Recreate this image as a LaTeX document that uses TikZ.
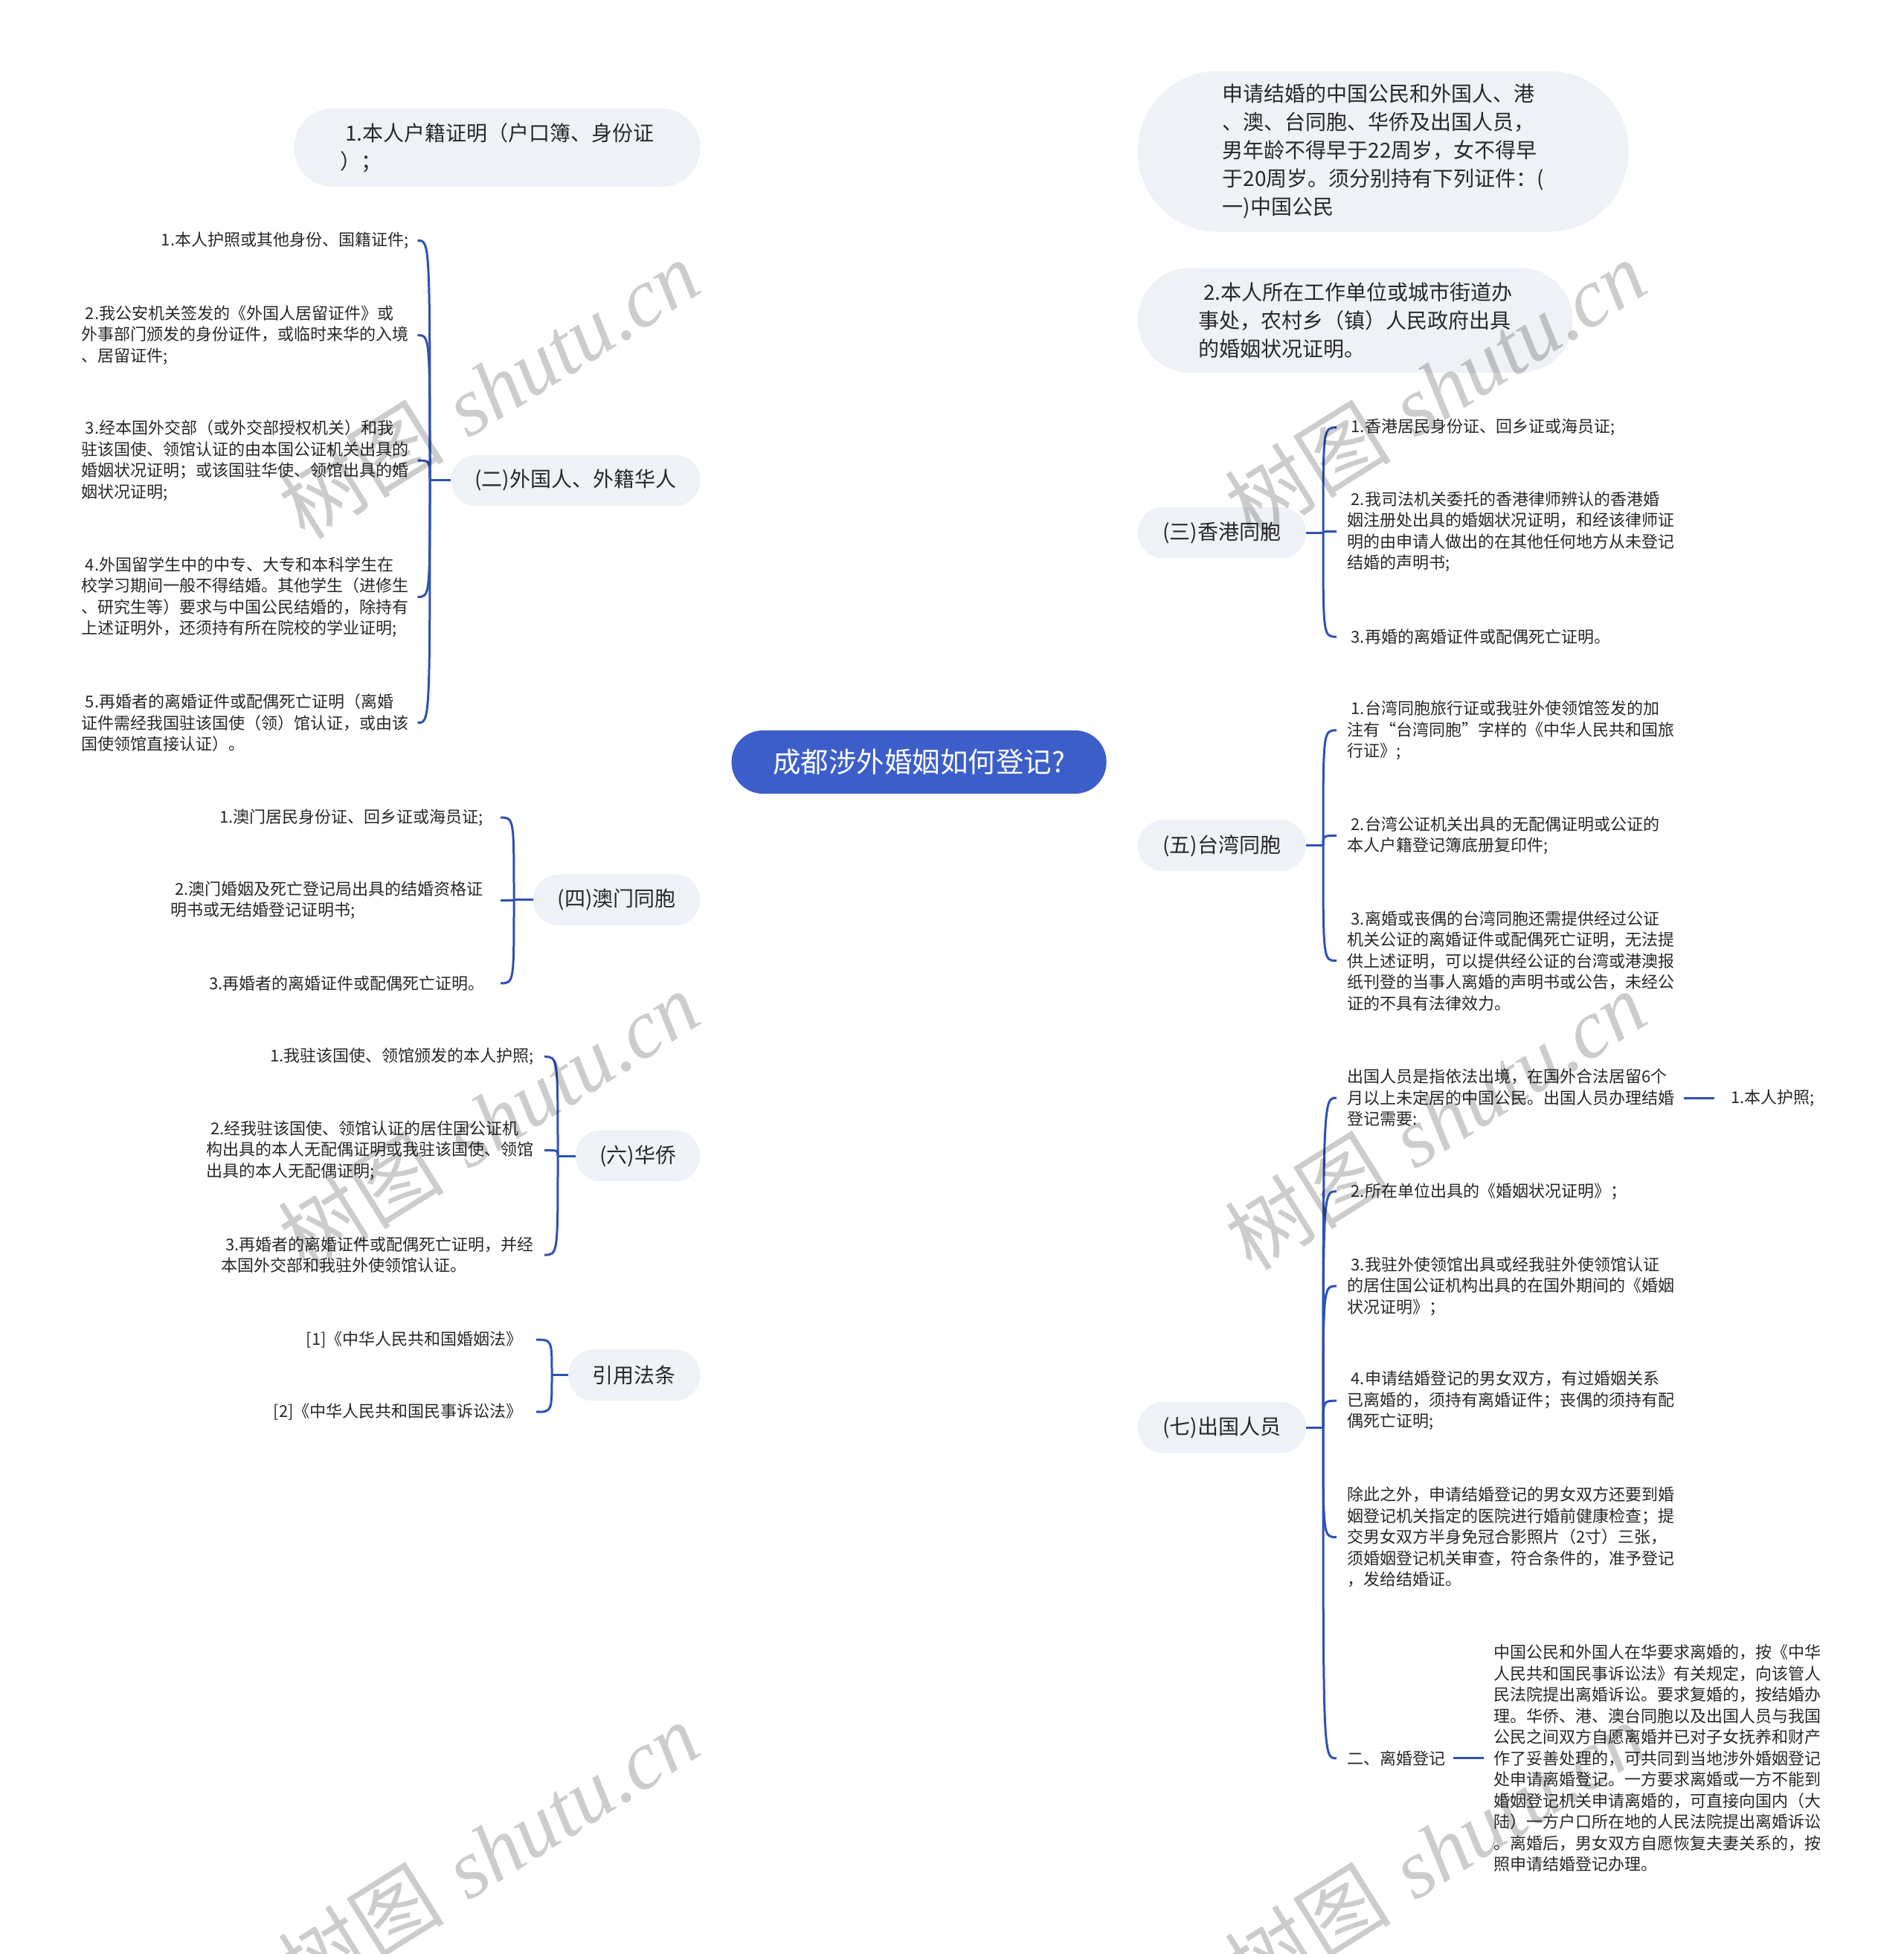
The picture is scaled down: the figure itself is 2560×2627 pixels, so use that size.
\documentclass[tikz,border=0pt]{standalone}
\usepackage{fontspec}
\setmainfont{Noto Sans CJK SC}
\newfontfamily\wmserif{Liberation Serif}
\usetikzlibrary{calc,backgrounds}
\definecolor{rootblue}{RGB}{60,94,201}
\definecolor{linkblue}{RGB}{47,82,178}
\definecolor{pillgray}{RGB}{238,241,245}
\definecolor{txt}{RGB}{40,40,40}
\newcommand\lsp{\hspace*{0.25em}}
\tikzset{
  conn/.style={draw=linkblue, line width=3pt},
  rootbox/.style={fill=rootblue, text=white, inner sep=0pt, minimum width=504pt, minimum height=85pt, rounded corners=42pt, font=\fontsize{37.5}{45}\selectfont},
  pill/.style={fill=pillgray, inner sep=0pt, align=left, text=txt, minimum height=68.7pt, rounded corners=34pt, font=\fontsize{28}{38}\selectfont},
  leafL/.style={inner sep=0pt, align=left, anchor=east, text=txt, font=\fontsize{22}{28.5}\selectfont},
  leafR/.style={inner sep=0pt, align=left, anchor=west, text=txt, font=\fontsize{22}{28.5}\selectfont},
  wm/.style={text=black, text opacity=0.2, rotate=32, inner sep=0pt, font=\fontsize{112}{120}\selectfont}
}
\begin{document}
\begin{tikzpicture}[x=1pt,y=-1pt]
\useasboundingbox (0,0) rectangle (2560,2627);
\fill[white] (0,0) rectangle (2560,2627);

% root
\node[rootbox] (root) at (1235.6,1024.5) {成都涉外婚姻如何登记?};

% left branches
\node[pill, anchor=east, minimum width=546pt, minimum height=105.5pt, rounded corners=52pt] (L1) at (941.6,198.5) {\lsp 1.本人户籍证明（户口簿、身份证\\）；};
\node[pill, anchor=east, minimum width=335pt] (L2) at (941.6,645.9) {(二)外国人、外籍华人};
\node[pill, anchor=east, minimum width=224.5pt] (L3) at (941.6,1209.7) {(四)澳门同胞};
\node[pill, anchor=east, minimum width=167.6pt] (L4) at (941.6,1554) {(六)华侨};
\node[pill, anchor=east, minimum width=177.6pt] (L5) at (941.6,1848.8) {引用法条};

% right branches
\node[pill, anchor=west, minimum width=660pt, minimum height=216pt, rounded corners=107pt] (R1) at (1529.6,203.6) {申请结婚的中国公民和外国人、港\\、澳、台同胞、华侨及出国人员，\\男年龄不得早于22周岁，女不得早\\于20周岁。须分别持有下列证件：(\\一)中国公民};
\node[pill, anchor=west, minimum width=584.7pt, minimum height=140.7pt, rounded corners=70pt] (R2) at (1529.6,430.6) {\lsp 2.本人所在工作单位或城市街道办\\事处，农村乡（镇）人民政府出具\\的婚姻状况证明。};
\node[pill, anchor=west, minimum width=226.2pt] (R3) at (1529.6,716.2) {(三)香港同胞};
\node[pill, anchor=west, minimum width=226.2pt] (R4) at (1529.6,1136.8) {(五)台湾同胞};
\node[pill, anchor=west, minimum width=226.2pt] (R5) at (1529.6,1919.2) {(七)出国人员};

% leaves of (二)
\node[leafL] (F1) at (549.5,323.4) {\lsp 1.本人护照或其他身份、国籍证件;};
\node[leafL] (F2) at (549.5,450.7) {\lsp 2.我公安机关签发的《外国人居留证件》或\\外事部门颁发的身份证件，或临时来华的入境\\、居留证件;};
\node[leafL] (F3) at (549.5,619.1) {\lsp 3.经本国外交部（或外交部授权机关）和我\\驻该国使、领馆认证的由本国公证机关出具的\\婚姻状况证明；或该国驻华使、领馆出具的婚\\姻状况证明;};
\node[leafL] (F4) at (549.5,802.5) {\lsp 4.外国留学生中的中专、大专和本科学生在\\校学习期间一般不得结婚。其他学生（进修生\\、研究生等）要求与中国公民结婚的，除持有\\上述证明外，还须持有所在院校的学业证明;};
\node[leafL] (F5) at (549.5,971.7) {\lsp 5.再婚者的离婚证件或配偶死亡证明（离婚\\证件需经我国驻该国使（领）馆认证，或由该\\国使领馆直接认证）。};

% leaves of (四)
\node[leafL] (M1) at (650,1099.1) {\lsp 1.澳门居民身份证、回乡证或海员证;};
\node[leafL] (M2) at (650,1210.5) {\lsp 2.澳门婚姻及死亡登记局出具的结婚资格证\\明书或无结婚登记证明书;};
\node[leafL] (M3) at (652,1321.9) {\lsp 3.再婚者的离婚证件或配偶死亡证明。};

% leaves of (六)
\node[leafL] (H1) at (718,1420.7) {\lsp 1.我驻该国使、领馆颁发的本人护照;};
\node[leafL] (H2) at (718,1546.4) {\lsp 2.经我驻该国使、领馆认证的居住国公证机\\构出具的本人无配偶证明或我驻该国使、领馆\\出具的本人无配偶证明;};
\node[leafL] (H3) at (718,1687.1) {\lsp 3.再婚者的离婚证件或配偶死亡证明，并经\\本国外交部和我驻外使领馆认证。};

% leaves of 引用法条
\node[leafL] (C1) at (703,1801.1) {[1]《中华人民共和国婚姻法》};
\node[leafL] (C2) at (703,1898.2) {[2]《中华人民共和国民事诉讼法》};

% leaves of (三)
\node[leafR] (HK1) at (1811,574.7) {\lsp 1.香港居民身份证、回乡证或海员证;};
\node[leafR] (HK2) at (1811,714.6) {\lsp 2.我司法机关委托的香港律师辨认的香港婚\\姻注册处出具的婚姻状况证明，和经该律师证\\明的由申请人做出的在其他任何地方从未登记\\结婚的声明书;};
\node[leafR] (HK3) at (1811,856.1) {\lsp 3.再婚的离婚证件或配偶死亡证明。};

% leaves of (五)
\node[leafR] (TW1) at (1811,981.8) {\lsp 1.台湾同胞旅行证或我驻外使领馆签发的加\\注有“台湾同胞”字样的《中华人民共和国旅\\行证》;};
\node[leafR] (TW2) at (1811,1123.4) {\lsp 2.台湾公证机关出具的无配偶证明或公证的\\本人户籍登记簿底册复印件;};
\node[leafR] (TW3) at (1811,1291.7) {\lsp 3.离婚或丧偶的台湾同胞还需提供经过公证\\机关公证的离婚证件或配偶死亡证明，无法提\\供上述证明，可以提供经公证的台湾或港澳报\\纸刊登的当事人离婚的声明书或公告，未经公\\证的不具有法律效力。};

% leaves of (七)
\node[leafR] (O1) at (1811,1476.0) {出国人员是指依法出境，在国外合法居留6个\\月以上未定居的中国公民。出国人员办理结婚\\登记需要:};
\node[leafR] (O1a) at (2321.5,1476.0) {\lsp 1.本人护照;};
\node[leafR] (O2) at (1811,1601.7) {\lsp 2.所在单位出具的《婚姻状况证明》；};
\node[leafR] (O3) at (1811,1729.0) {\lsp 3.我驻外使领馆出具或经我驻外使领馆认证\\的居住国公证机构出具的在国外期间的《婚姻\\状况证明》；};
\node[leafR] (O4) at (1811,1883.2) {\lsp 4.申请结婚登记的男女双方，有过婚姻关系\\已离婚的，须持有离婚证件；丧偶的须持有配\\偶死亡证明;};
\node[leafR] (O5) at (1811,2066.6) {除此之外，申请结婚登记的男女双方还要到婚\\姻登记机关指定的医院进行婚前健康检查；提\\交男女双方半身免冠合影照片（2寸）三张，\\须婚姻登记机关审查，符合条件的，准予登记\\，发给结婚证。};
\node[leafR] (O6) at (1811,2363.9) {二、离婚登记};
\node[leafR] (O6a) at (2008.4,2363.9) {中国公民和外国人在华要求离婚的，按《中华\\人民共和国民事诉讼法》有关规定，向该管人\\民法院提出离婚诉讼。要求复婚的，按结婚办\\理。华侨、港、澳台同胞以及出国人员与我国\\公民之间双方自愿离婚并已对子女抚养和财产\\作了妥善处理的，可共同到当地涉外婚姻登记\\处申请离婚登记。一方要求离婚或一方不能到\\婚姻登记机关申请离婚的，可直接向国内（大\\陆）一方户口所在地的人民法院提出离婚诉讼\\。离婚后，男女双方自愿恢复夫妻关系的，按\\照申请结婚登记办理。};

% junctions
\coordinate (b2) at (578,645.9);
\coordinate (b3) at (691,1209.7);
\coordinate (b4) at (750,1554);
\coordinate (b5) at (742,1848.8);
\coordinate (b6) at (1779,716.2);
\coordinate (b7) at (1779,1136.8);
\coordinate (b8) at (1779,1919.2);

\begin{scope}[on background layer]
% root connectors
\foreach \n in {L1,L2,L3,L4,L5}{
  \draw[conn] (root.center) .. controls (root.center |- \n.east) and ($(root.center |- \n.east)!0.3!(\n.east)$) .. (\n.east);
}
\foreach \n in {R1,R2,R3,R5}{
  \draw[conn] (root.center) .. controls (root.center |- \n.west) and ($(root.center |- \n.west)!0.3!(\n.west)$) .. (\n.west);
}
\draw[conn] ([xshift=6pt]root.center) .. controls ([xshift=6pt]root.center |- R4.west) and ($([xshift=6pt]root.center |- R4.west)!0.3!(R4.west)$) .. (R4.west);
\end{scope}

% brace connectors, left
\draw[conn] (L2.west) -- (b2);
\foreach \n in {F1,F2,F3,F4,F5}{\draw[conn] (b2) .. controls (b2 |- \n.east) .. ([xshift=12pt]\n.east);}
\draw[conn] (L3.west) -- (b3);
\foreach \n in {M1,M2}{\draw[conn] (b3) .. controls (b3 |- \n.east) .. ([xshift=23pt]\n.east);}
\draw[conn] (b3) .. controls (b3 |- M3.east) .. ([xshift=21pt]M3.east);
\draw[conn] (L4.west) -- (b4);
\foreach \n in {H1,H2,H3}{\draw[conn] (b4) .. controls (b4 |- \n.east) .. ([xshift=14pt]\n.east);}
\draw[conn] (L5.west) -- (b5);
\foreach \n in {C1,C2}{\draw[conn] (b5) .. controls (b5 |- \n.east) .. ([xshift=18pt]\n.east);}

% brace connectors, right
\draw[conn] (R3.east) -- (b6);
\foreach \n in {HK1,HK2,HK3}{\draw[conn] (b6) .. controls (b6 |- \n.west) .. ([xshift=-14pt]\n.west);}
\draw[conn] (R4.east) -- (b7);
\foreach \n in {TW1,TW2,TW3}{\draw[conn] (b7) .. controls (b7 |- \n.west) .. ([xshift=-14pt]\n.west);}
\draw[conn] (R5.east) -- (b8);
\foreach \n in {O1,O2,O3,O4,O5,O6}{\draw[conn] (b8) .. controls (b8 |- \n.west) .. ([xshift=-14pt]\n.west);}
\draw[conn] ([xshift=13pt]O1.east) -- ([xshift=-17pt]O1a.west);
\draw[conn] ([xshift=11pt]O6.east) -- ([xshift=-13pt]O6a.west);

% watermarks
\foreach \p [count=\i] in {(657,523),(1930,523),(657,1506),(1930,1506),(657,2489),(1930,2489)}{
  \node[wm] (wm\i) at \p {树图\hspace{0.3em}{\wmserif\itshape shutu.cn}};
}
\end{tikzpicture}
\end{document}
